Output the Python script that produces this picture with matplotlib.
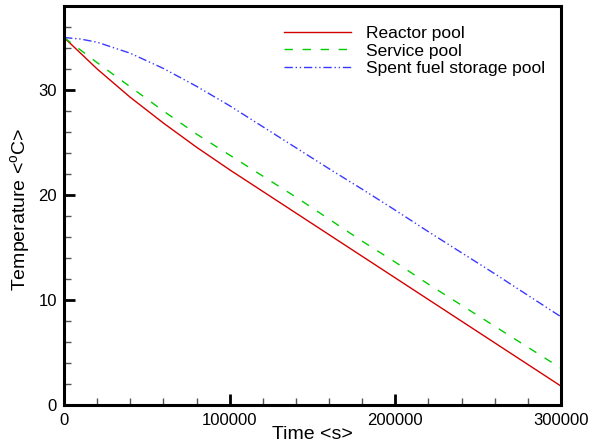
import matplotlib
matplotlib.use('Agg')
import matplotlib.pyplot as plt
from matplotlib.ticker import MultipleLocator

plt.rcParams['font.family'] = ['Liberation Sans', 'DejaVu Sans']
plt.rcParams['mathtext.fontset'] = 'custom'
plt.rcParams['mathtext.rm'] = 'Liberation Sans'

# time in seconds
time_s = [0, 20000, 40000, 60000, 80000, 100000, 120000, 140000, 160000,
          180000, 200000, 220000, 240000, 260000, 280000, 300000]

reactor_pool = [35.0, 32.0, 29.3, 26.85, 24.55, 22.4, 20.34, 18.28, 16.22,
                14.16, 12.1, 10.04, 7.98, 5.92, 3.86, 1.8]
service_pool = [35.0, 32.6, 30.3, 28.0, 25.8, 23.8, 21.8, 19.8, 17.7,
                15.6, 13.6, 11.5, 9.5, 7.5, 5.5, 3.5]
spent_time_s = [0, 10000] + time_s[1:]
spent_fuel_pool = [35.0, 34.85, 34.55, 33.5, 32.05, 30.35, 28.5, 26.5, 24.5,
                   22.5, 20.55, 18.55, 16.5, 14.5, 12.5, 10.45, 8.4]

fig = plt.figure(figsize=(5.9, 4.43), dpi=100)
ax = fig.add_axes([0.1085, 0.0858, 0.8423, 0.9007])

ax.plot(time_s, reactor_pool, color='#d40000', lw=1.0, label='Reactor pool')
ax.plot(time_s, service_pool, color='#00cc00', lw=1.0, dashes=(6, 7),
        label='Service pool')
ax.plot(spent_time_s, spent_fuel_pool, color='#3a3aff', lw=1.0,
        dashes=(6, 2, 1, 2, 1, 2), label='Spent fuel storage pool')

ax.set_xlim(0, 300000)
ax.set_ylim(0, 38)
ax.xaxis.set_major_locator(MultipleLocator(100000))
ax.xaxis.set_minor_locator(MultipleLocator(20000))
ax.yaxis.set_major_locator(MultipleLocator(10))
ax.yaxis.set_minor_locator(MultipleLocator(2))

ax.tick_params(which='major', direction='in', length=8, width=2,
               labelsize=12, top=False, right=False)
ax.tick_params(which='minor', direction='in', length=5, width=1,
               color='#555555', top=False, right=False)
ax.tick_params(axis='x', pad=6)
ax.tick_params(axis='y', pad=5)

for sp in ax.spines.values():
    sp.set_linewidth(2.2)

ax.set_xlabel('Time <s>', fontsize=14, va='center')
ax.set_ylabel(r'Temperature <$^\mathrm{o}$C>', fontsize=14, va='center')
ax.xaxis.set_label_coords(0.50, -0.073)
ax.yaxis.set_label_coords(-0.0866, 0.49)

ax.legend(loc='upper right', frameon=False, fontsize=12.5, handlelength=3.9,
          handletextpad=0.85, labelspacing=0.15, bbox_to_anchor=(1.0, 0.99))

fig.savefig('out.png', dpi=100)
